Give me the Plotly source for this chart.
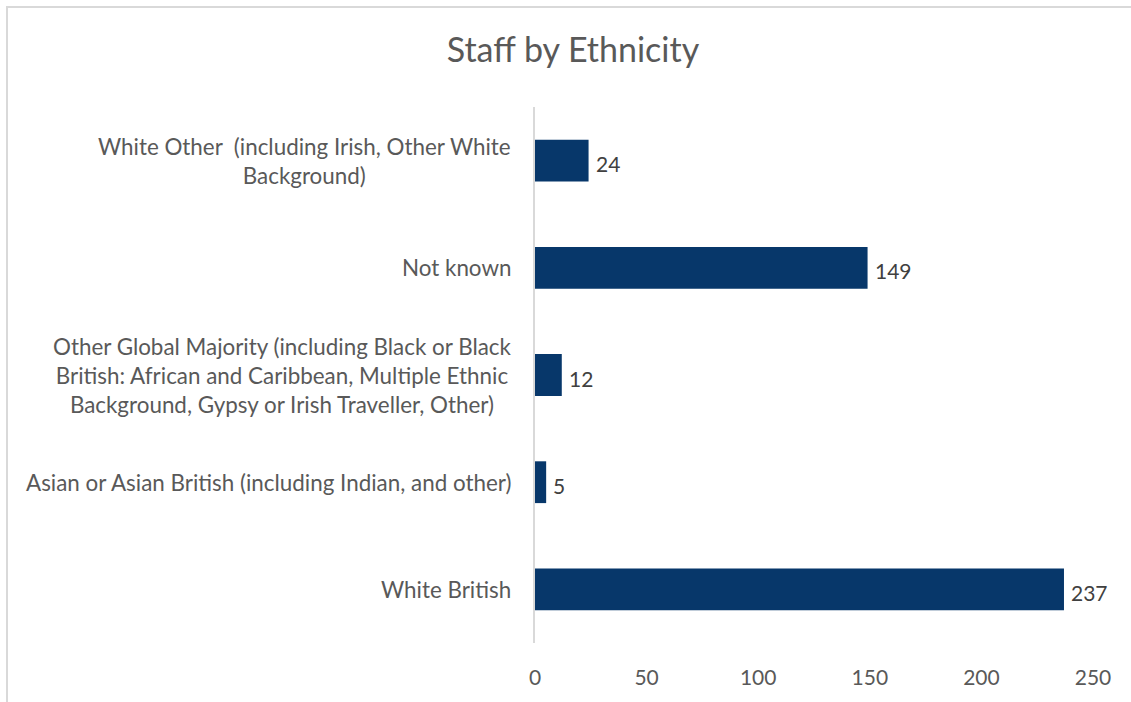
import plotly.graph_objects as go

# Staff counts by ethnicity (bottom-to-top order on the chart)
categories = [
    "White British",
    "Asian or Asian British (including Indian, and other)",
    "Other Global Majority (including Black or Black<br>British: African and Caribbean, Multiple Ethnic<br>Background, Gypsy or Irish Traveller, Other)",
    "Not known",
    "White Other  (including Irish, Other White<br>Background)",
]
staff_counts = [237, 5, 12, 149, 24]
x_ticks = [0, 50, 100, 150, 200, 250]

FONT = "Lato"
TEXT_GREY = "#595959"
BAR_COLOUR = "#07376a"

W, H = 1131, 702
left, right, top, bottom = 535, 1093, 107, 643

fig = go.Figure()
fig.add_trace(go.Bar(
    y=list(range(len(categories))),
    x=staff_counts,
    orientation="h",
    marker=dict(color=BAR_COLOUR, line=dict(width=0)),
    width=0.39,
    hoverinfo="skip",
))

# Value labels just past the end of each bar
for i, v in enumerate(staff_counts):
    fig.add_annotation(
        x=v, xref="x", y=i, yref="y",
        text=str(v), showarrow=False,
        xanchor="left", yanchor="middle", xshift=5, yshift=-3,
        font=dict(family=FONT, size=21, color="#404040"),
    )

# Category labels, centred line by line and right-aligned to the axis
for i, label in enumerate(categories):
    fig.add_annotation(
        x=0, xref="paper", y=i, yref="y",
        text=label, showarrow=False,
        xanchor="right", yanchor="middle", align="center",
        xshift=-22,
        font=dict(family=FONT, size=22.4, color=TEXT_GREY),
    )

# Light frame around the whole chart
pw, ph = right - left, bottom - top
fig.add_shape(
    type="rect", xref="paper", yref="paper",
    x0=(7 - left) / pw, x1=(W + 20 - left) / pw,
    y0=(bottom - (H + 20)) / ph, y1=(bottom - 7) / ph,
    line=dict(color="#d9d9d9", width=2), layer="below",
)

fig.update_layout(
    width=W, height=H,
    margin=dict(l=left, r=W - right, t=top, b=H - bottom),
    paper_bgcolor="white", plot_bgcolor="white",
    showlegend=False,
    title=dict(
        text="Staff by Ethnicity",
        x=573 / W, xanchor="center", y=1 - 50 / H, yanchor="middle",
        font=dict(family=FONT, size=34, color=TEXT_GREY),
    ),
    xaxis=dict(
        range=[0, 250], tickvals=x_ticks, showgrid=False, zeroline=False,
        showline=False, ticks="",
        tickfont=dict(family=FONT, size=21, color=TEXT_GREY),
        ticklabelstandoff=20,
    ),
    yaxis=dict(
        range=[-0.5, len(categories) - 0.5], showticklabels=False,
        showgrid=False, zeroline=False,
        showline=True, linecolor="#d9d9d9", linewidth=2,
    ),
)

fig.write_html("out.html")
